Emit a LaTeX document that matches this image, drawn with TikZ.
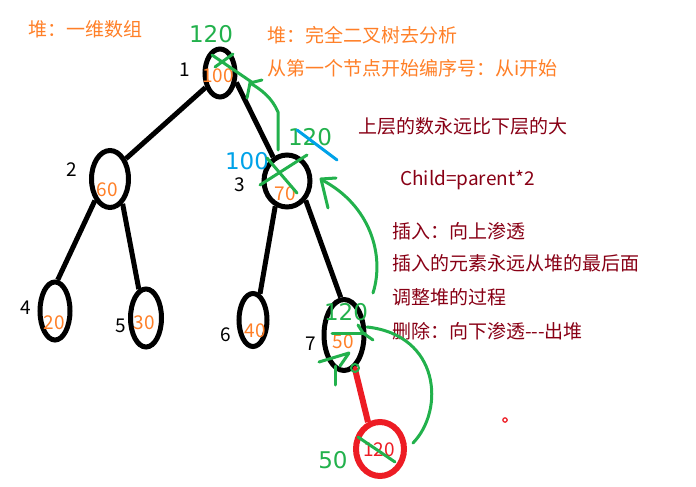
\documentclass[tikz,border=0pt]{standalone}
\usepackage{fontspec}
\usepackage{tikz}
\usetikzlibrary{shapes}
\setmainfont{Noto Sans CJK SC}
\newfontfamily\handfont{DejaVu Sans}
\definecolor{txtorange}{HTML}{FF7F27}
\definecolor{txtred}{HTML}{880015}
\definecolor{penred}{HTML}{ED1C24}
\definecolor{pengreen}{HTML}{22B14C}
\definecolor{penblue}{HTML}{00A2E8}
\tikzstyle{vertex}=[ellipse,draw=black,line width=5pt,inner sep=0pt]
\tikzstyle{edge}=[line width=5pt]
\tikzstyle{val}=[text=txtorange,inner sep=0pt,font=\fontsize{19}{19}\selectfont]
\tikzstyle{idx}=[inner sep=0pt,font=\fontsize{19}{19}\selectfont]
\tikzstyle{note}=[anchor=west,inner sep=0pt,font=\fontsize{19}{19}\selectfont]
\tikzstyle{pen}=[pengreen,line width=3pt,line cap=round,line join=round]
\tikzstyle{scrawl}=[inner sep=0pt,font=\handfont\fontsize{23}{23}\selectfont]

\begin{document}
\begin{tikzpicture}[x=1pt,y=-1pt]
\useasboundingbox (0,0) rectangle (696,487);

\foreach \n/\x/\y/\w/\h in {1/220/73/30/48, 2/110/179/37/57, 3/287/181/46/52, 4/55/311/30/58, 5/146/318/31/58, 6/253/320/28/53, 7/344/335/40/71}{
    \node[vertex,minimum width=\w,minimum height=\h] (n\n) at (\x,\y) {};
}
\node[vertex,draw=penred,line width=6pt,minimum width=48,minimum height=54] (ins) at (380,449) {};

\draw[edge] (n1.225) -- (n2.52);
\draw[edge] (n1.-30) -- (n3.120);
\draw[edge] (n2.235) -- (n4.85);
\draw[edge] (n2.-63) -- (n5.104);
\draw[edge] (n3.245) -- (n6.75);
\draw[edge] (n3.-46) -- (n7.95);
\draw[edge,penred,line width=6pt] (n7.-72) -- (ins.114);

\foreach \v/\x/\y in {100/218/76, 60/107/190, 70/285/194, 20/54/323, 30/144/323, 40/255/331, 50/343/342}{
    \node[val] (v\v) at (\x,\y) {\v};
}
\node[val,text=penred] (v120) at (379,450) {120};
\foreach \i/\x/\y in {1/185/70, 2/72/170, 3/240/185, 4/26/308, 5/121/326, 6/226/335, 7/311/344}{
    \node[idx] (i\i) at (\x,\y) {\i};
}

\node[note,text=txtorange] (t0) at (28,29) {堆：一维数组};
\node[note,text=txtorange] (t1) at (267,35) {堆：完全二叉树去分析};
\node[note,text=txtorange] (t2) at (267,68) {从第一个节点开始编序号：从i开始};
\node[note,text=txtred] (t3) at (358,126) {上层的数永远比下层的大};
\node[note,text=txtred] (t4) at (400,180) {Child=parent*2};
\node[note,text=txtred] (t5) at (392,231) {插入：向上渗透};
\node[note,text=txtred] (t6) at (392,263) {插入的元素永远从堆的最后面};
\node[note,text=txtred] (t7) at (392,297) {调整堆的过程};
\node[note,text=txtred] (t8) at (392,331) {删除：向下渗透-{}-{}-出堆};

% hand written marks
\node[scrawl,text=pengreen] (g1) at (211,34) {120};
\node[scrawl,text=pengreen] (g3) at (310,137) {120};
\node[scrawl,text=penblue] (b3) at (247,161) {100};
\node[scrawl,text=pengreen] (g7) at (346,312) {120};
\node[scrawl,text=pengreen] (g8) at (333,460) {50};

\draw[pen] (212,55) -- (253,83);
\draw[pen] (215,67) -- (233,54);
\draw[pen] (278,150) -- (278,112) .. controls (272,98) and (262,90) .. (250,83);
\draw[pen] (247,98) -- (250,83) -- (262,80);
\draw[pen] (260,185) -- (307,155);
\draw[pen] (267,158) -- (297,193);
\draw[pen,penblue] (297,130) -- (337,160);
\draw[pen] (373,293) .. controls (385,255) and (370,205) .. (322,180);
\draw[pen] (328,208) -- (321,179) -- (336,178);
\draw[pen] (413,443) .. controls (445,410) and (440,335) .. (367,327);
\draw[pen] (358,325) -- (363,333) -- (373,340);
\draw[pen] (332,333) -- (365,333);
\draw[pen] (335,385) -- (335,366);
\draw[pen] (319,362) -- (349,353) -- (340,366);
\draw[pen,line width=2pt] (355,368) circle (4);
\fill[penred] (355,368) circle (2);
\draw[pen] (358,437) -- (395,462);
\draw[penred,line width=1.2pt] (505,420) circle (2.2);
%\draw (ins) circle (2pt);
\end{tikzpicture}
\end{document}
